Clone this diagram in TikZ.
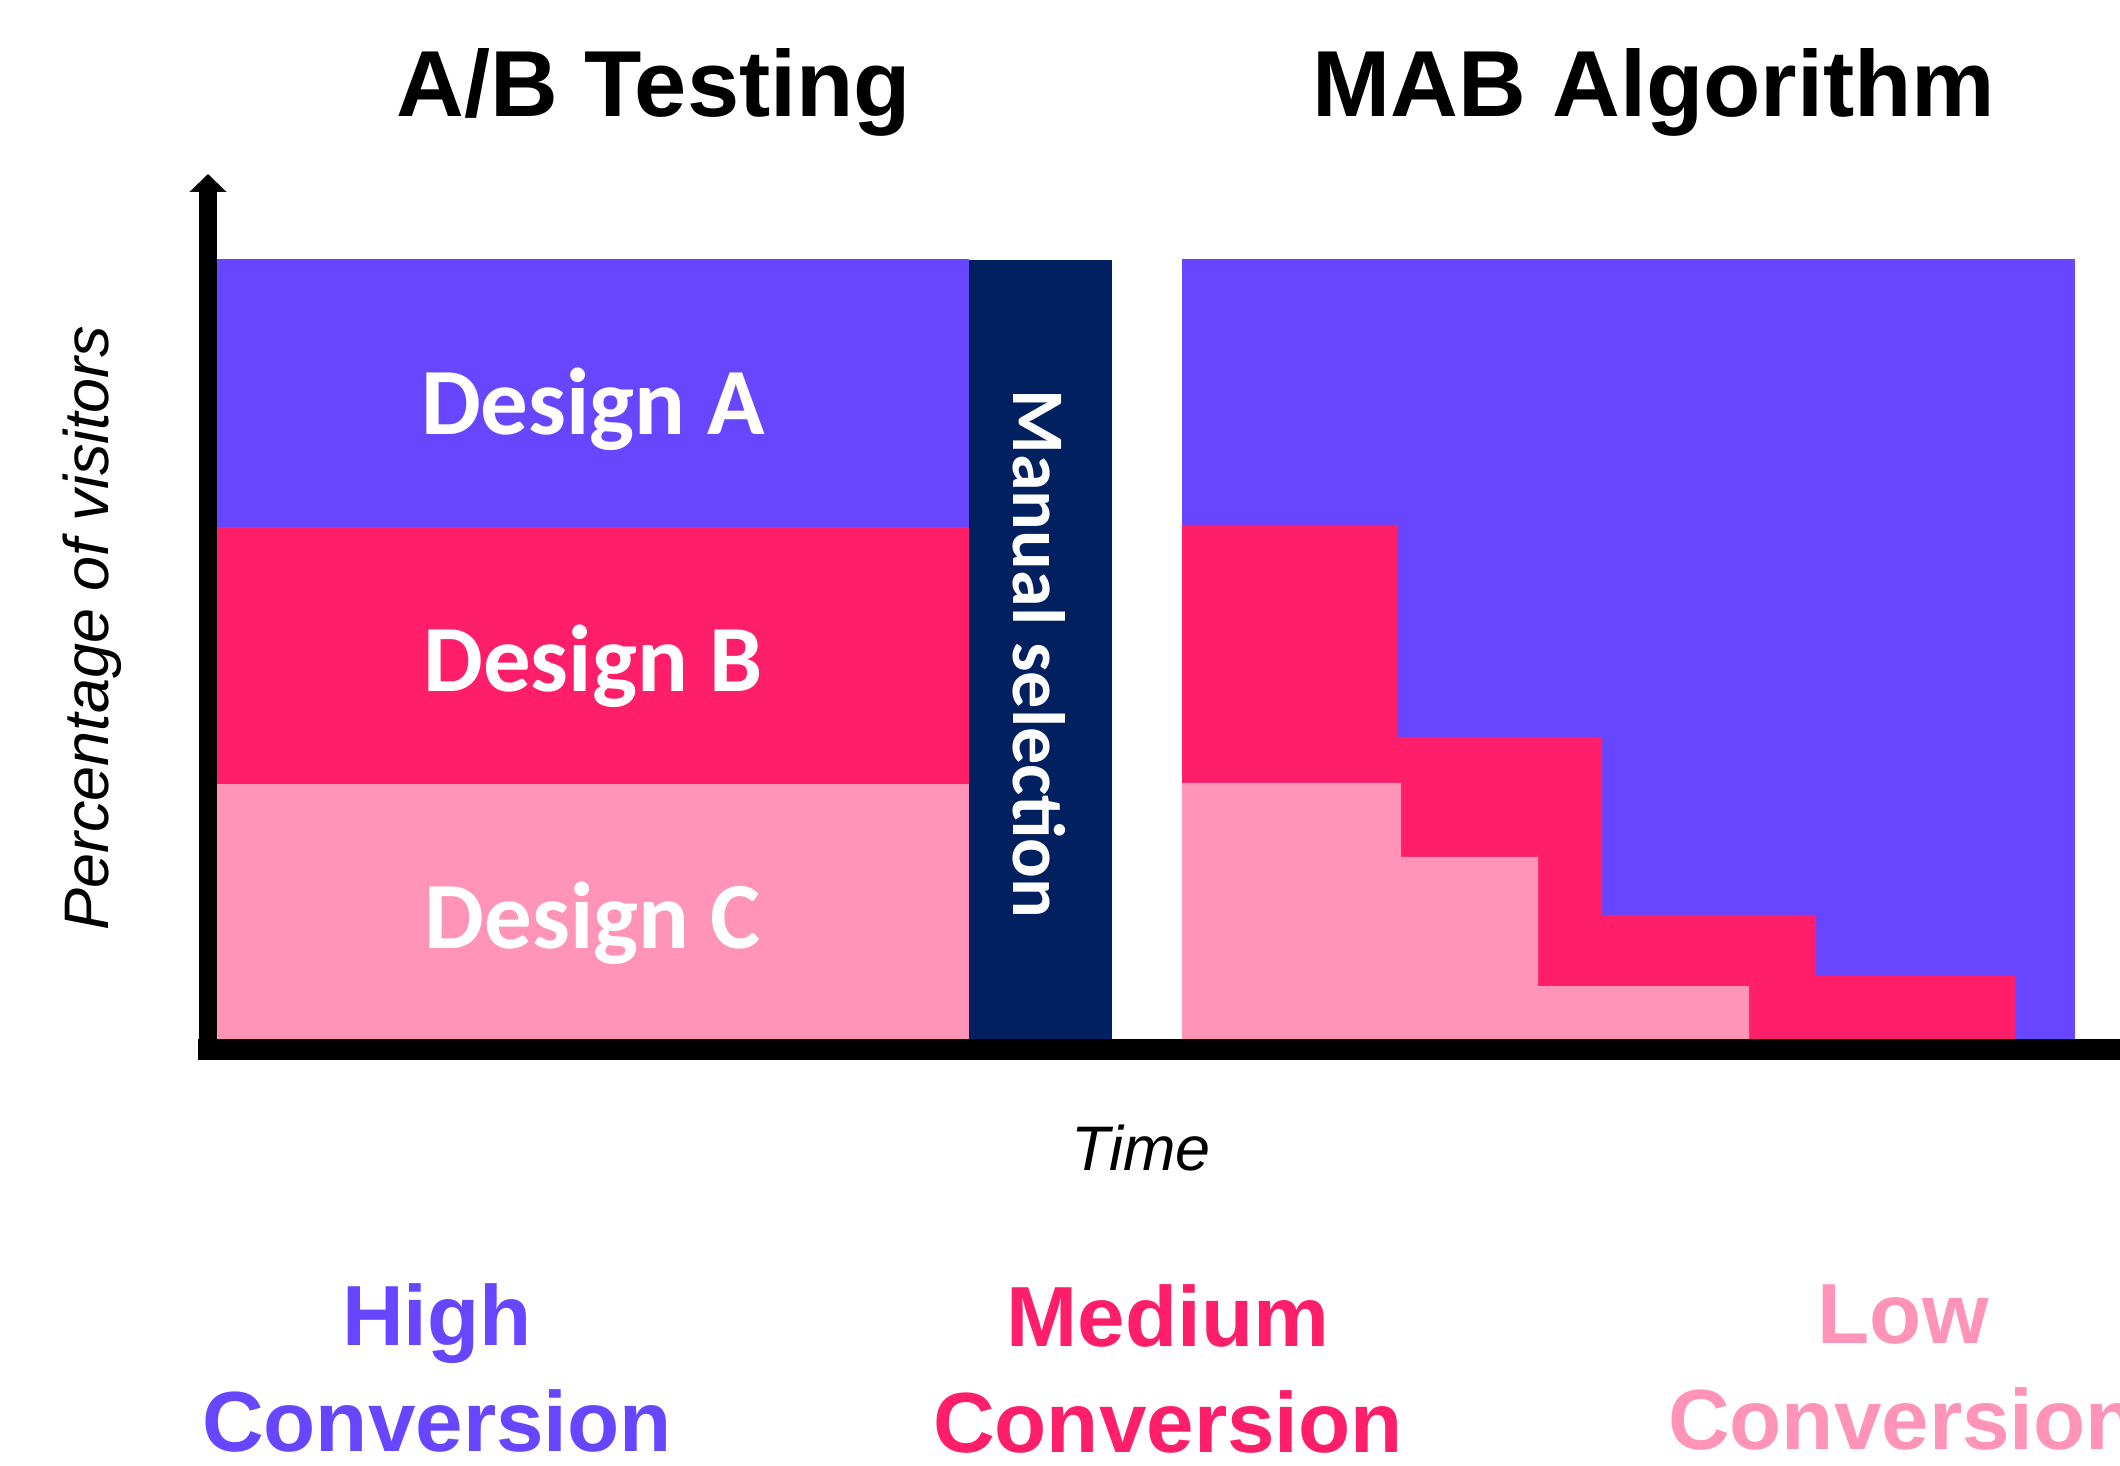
\documentclass[tikz,border=0pt]{standalone}
\usepackage{fontspec}
\setmainfont{Liberation Sans}
\newfontfamily\carlito{Carlito}
\usetikzlibrary{arrows.meta}
\definecolor{hiconv}{HTML}{6846FF}
\definecolor{medconv}{HTML}{FF1E69}
\definecolor{lowconv}{HTML}{FF94B8}
\definecolor{manual}{HTML}{002060}

\begin{document}
\begin{tikzpicture}[x=0.1mm,y=-0.1mm,
    hd/.style={anchor=base,inner sep=0pt,font=\fontsize{26.7}{32}\selectfont\bfseries},
    dsg/.style={anchor=base,inner sep=0pt,text=white,font=\carlito\fontsize{27}{32}\selectfont\bfseries},
    ms/.style={anchor=base,inner sep=0pt,text=white,rotate=-90,font=\carlito\fontsize{21.1}{25}\selectfont\bfseries},
    axl/.style={anchor=base,inner sep=0pt,font=\fontsize{17.9}{21}\selectfont\itshape},
    cv/.style={anchor=base,inner sep=0pt,align=center,font=\fontsize{24.3}{30}\selectfont\bfseries}]
  \useasboundingbox (0,0) rectangle (2120,1466);
  % titles
  \node[hd] (ab) at (654,117) {A/B Testing};
  \node[hd] (mab) at (1654,117) {MAB Algorithm};
  % A/B testing
  \fill[hiconv] (217,259) rectangle (969,527);
  \fill[medconv] (217,527) rectangle (969,784);
  \fill[lowconv] (217,784) rectangle (969,1039);
  \fill[manual] (969,260) rectangle (1112,1039);
  \node[dsg] (da) at (593,435) {Design A};
  \node[dsg] (db) at (593,692) {Design B};
  \node[dsg] (dc) at (593,948) {Design C};
  \node[ms] (sel) at (1013,654) {Manual selection};
  % MAB
  \fill[hiconv] (1182,259) rectangle (2075,1039);
  \fill[medconv] (1182,525) -| (1398,737) -| (1602,915) -| (1816,976) -| (2015,1039)
    -- (1182,1039) -- cycle;
  \fill[lowconv] (1182,783) -| (1401,857) -| (1538,986) -| (1749,1039)
    -- (1182,1039) -- cycle;
  % axes
  \coordinate (o) at (208,1060);
  \coordinate (ytop) at (208,174);
  \coordinate (xl) at (198,1049.5);
  \coordinate (xr) at (2120,1049.5);
  \draw[line width=5.1pt,-{Triangle[width=3.6mm,length=1.8mm]}] (o) -- (ytop);
  \draw[line width=6pt] (xl) -- (xr);
  \node[axl,rotate=90] (pv) at (108,628) {Percentage of visitors};
  \node[axl] (tm) at (1141,1170) {Time};
  % legend
  \node[cv,text=hiconv] (hc) at (437,1451) {High\\Conversion};
  \node[cv,text=medconv] (mc) at (1168,1452) {Medium\\Conversion};
  \node[cv,text=lowconv] (lc) at (1903,1449) {Low\\Conversion};
\end{tikzpicture}
\end{document}
